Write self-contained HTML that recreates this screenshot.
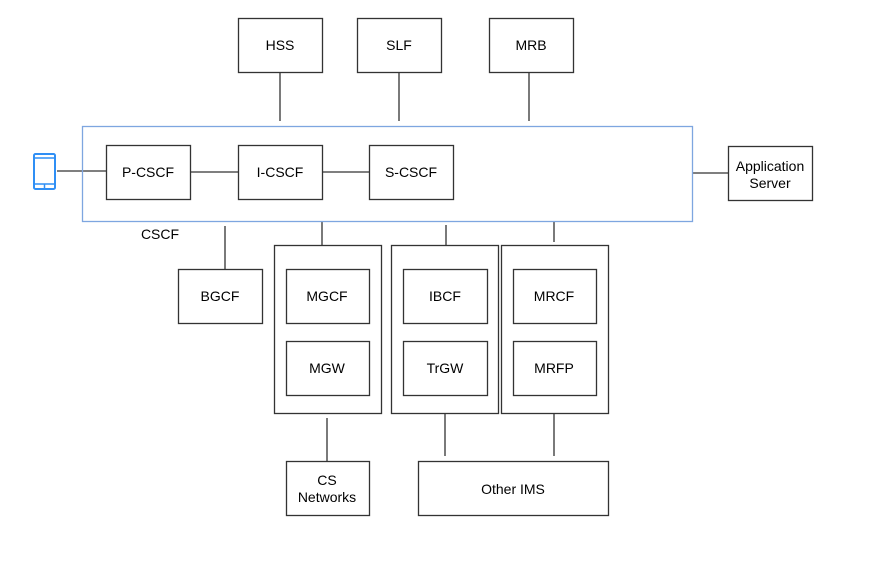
<!DOCTYPE html>
<html><head><meta charset="utf-8"><style>
html,body{margin:0;padding:0;background:#fff;}
svg{display:block;}
text{font-family:"Liberation Sans",Arial,sans-serif;font-size:14px;fill:#000;}
</style></head><body>
<svg width="883" height="575" viewBox="0 0 883 575" xmlns="http://www.w3.org/2000/svg">
<g fill="none" stroke="#333" stroke-width="1.3">
<!-- connectors -->
<line x1="280" y1="72" x2="280" y2="121"/>
<line x1="399" y1="72" x2="399" y2="121"/>
<line x1="529" y1="72" x2="529" y2="121"/>
<line x1="692" y1="173" x2="728" y2="173"/>
<line x1="57" y1="171" x2="106" y2="171"/>
<line x1="190" y1="172" x2="238" y2="172"/>
<line x1="322" y1="172" x2="369" y2="172"/>
<line x1="225" y1="226" x2="225" y2="269"/>
<line x1="322" y1="221" x2="322" y2="245"/>
<line x1="446" y1="225" x2="446" y2="245"/>
<line x1="554" y1="222" x2="554" y2="242"/>
<line x1="327" y1="418" x2="327" y2="461"/>
<line x1="445" y1="413" x2="445" y2="456"/>
<line x1="554" y1="413" x2="554" y2="456"/>
<!-- boxes -->
<rect x="238.5" y="18.5" width="84" height="54"/>
<rect x="357.5" y="18.5" width="84" height="54"/>
<rect x="489.5" y="18.5" width="84" height="54"/>
<rect x="106.5" y="145.5" width="84" height="54"/>
<rect x="238.5" y="145.5" width="84" height="54"/>
<rect x="369.5" y="145.5" width="84" height="54"/>
<rect x="728.5" y="146.5" width="84" height="54"/>
<rect x="178.5" y="269.5" width="84" height="54"/>
<rect x="274.5" y="245.5" width="107" height="168"/>
<rect x="391.5" y="245.5" width="107" height="168"/>
<rect x="501.5" y="245.5" width="107" height="168"/>
<rect x="286.5" y="269.5" width="83" height="54"/>
<rect x="286.5" y="341.5" width="83" height="54"/>
<rect x="403.5" y="269.5" width="84" height="54"/>
<rect x="403.5" y="341.5" width="84" height="54"/>
<rect x="513.5" y="269.5" width="83" height="54"/>
<rect x="513.5" y="341.5" width="83" height="54"/>
<rect x="286.5" y="461.5" width="83" height="54"/>
<rect x="418.5" y="461.5" width="190" height="54"/>
</g>
<rect x="82.5" y="126.5" width="610" height="95" fill="none" stroke="#7ea6e0" stroke-width="1.3"/>
<!-- phone -->
<rect x="34" y="154" width="21" height="35" rx="1.5" fill="none" stroke="#2f8ff5" stroke-width="2"/>
<line x1="34" y1="158" x2="55" y2="158" stroke="#2f8ff5" stroke-width="1.5"/>
<line x1="34" y1="184" x2="55" y2="184" stroke="#2f8ff5" stroke-width="1.5"/>
<line x1="44.5" y1="184" x2="44.5" y2="189" stroke="#2f8ff5" stroke-width="1.5"/>
<g text-anchor="middle">
<text x="280" y="50">HSS</text>
<text x="399" y="50">SLF</text>
<text x="531" y="50">MRB</text>
<text x="148" y="177">P-CSCF</text>
<text x="280" y="177">I-CSCF</text>
<text x="411" y="177">S-CSCF</text>
<text x="770" y="171">Application</text>
<text x="770" y="188">Server</text>
<text x="160" y="239">CSCF</text>
<text x="220" y="301">BGCF</text>
<text x="327" y="301">MGCF</text>
<text x="327" y="373">MGW</text>
<text x="445" y="301">IBCF</text>
<text x="445" y="373">TrGW</text>
<text x="554" y="301">MRCF</text>
<text x="554" y="373">MRFP</text>
<text x="327" y="485">CS</text>
<text x="327" y="502">Networks</text>
<text x="513" y="494">Other IMS</text>
</g>
</svg>
</body></html>
